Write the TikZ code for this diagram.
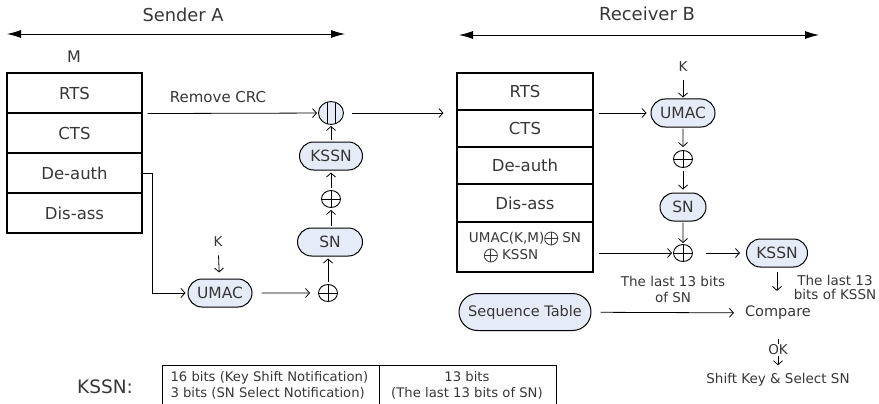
\documentclass[tikz,border=0pt]{standalone}
\usepackage{fontspec}
\setmainfont{DejaVu Sans}
\usetikzlibrary{arrows.meta,shapes.misc,shapes.geometric,calc}
\definecolor{nodefill}{RGB}{229,236,247}
\definecolor{txt}{RGB}{55,55,55}
\newcommand{\xorsym}{\tikz[baseline=-4pt]{\draw[line width=0.8pt] (0pt,0pt) circle[radius=6.5pt]; \draw[line width=0.8pt] (-6.5pt,0pt)--(6.5pt,0pt) (0pt,-6.5pt)--(0pt,6.5pt);}}
\begin{document}
\begin{tikzpicture}[x=1pt,y=-1pt,
  font=\fontsize{15}{18}\selectfont, text=txt,
  arr/.style={-{Straight Barb[length=4pt,width=9pt]}, line width=0.8pt, shorten >=2pt, shorten <=2pt},
  hdr/.style={{Latex[length=14pt,width=8pt]}-{Latex[length=14pt,width=8pt]}, line width=0.9pt},
  cell/.style={draw, line width=1.1pt, inner sep=0pt, font=\fontsize{16.5}{19}\selectfont},
  pill/.style={rounded rectangle, draw, line width=1pt, fill=nodefill, minimum height=28pt, inner sep=2pt, font=\fontsize{15.5}{18}\selectfont},
  xor/.style={ellipse, draw, line width=0.9pt, minimum width=19pt, minimum height=17pt, inner sep=0pt,
    path picture={\draw[line width=0.9pt] (path picture bounding box.north) -- (path picture bounding box.south)
      (path picture bounding box.west) -- (path picture bounding box.east);}},
  small/.style={font=\fontsize{13.5}{15}\selectfont}
]
\useasboundingbox (0,0) rectangle (879,404);

% headers
\node[font=\fontsize{17.8}{20}\selectfont] (sa) at (183,15) {Sender A};
\coordinate (sal) at (7,34);
\coordinate (sar) at (345,34);
\draw[hdr] (sal) -- (sar);
\node[font=\fontsize{18}{20}\selectfont] (rb) at (647,14) {Receiver B};
\coordinate (rbl) at (459,35);
\coordinate (rbr) at (819,35);
\draw[hdr] (rbl) -- (rbr);

% sender table
\node[font=\fontsize{16}{19}\selectfont] (m) at (74,57) {M};
\node[cell, minimum width=135pt, minimum height=40pt] (rts1) at (74.5,93) {RTS};
\node[cell, minimum width=135pt, minimum height=40pt] (cts1) at (74.5,133) {CTS};
\node[cell, minimum width=135pt, minimum height=40pt] (deauth1) at (74.5,173) {De-auth};
\node[cell, minimum width=135pt, minimum height=40pt] (dis1) at (74.5,213) {Dis-ass};

% sender chain
\node[ellipse, draw, fill=nodefill, line width=0.9pt, minimum width=25pt, minimum height=23pt, inner sep=0pt,
  path picture={\draw[line width=0.9pt] ([xshift=-4pt]path picture bounding box.north) -- ([xshift=-4pt]path picture bounding box.south)
    ([xshift=4pt]path picture bounding box.north) -- ([xshift=4pt]path picture bounding box.south);}] (cat1) at (331,113) {};
\node[pill, minimum width=67pt] (kssn1) at (331,156) {KSSN};
\node[xor] (x2) at (331,199) {};
\node[pill, minimum width=69pt] (sn1) at (330,242) {SN};
\node[xor] (x1) at (328,293) {};
\node[pill, minimum width=68pt] (umac1) at (220,293) {UMAC};
\node[font=\fontsize{13.5}{15}\selectfont] (k1) at (218,242) {K};

\node (rcrc) at (218,97) {Remove CRC};
\draw[arr, shorten <=5pt, shorten >=1pt] (rts1.south east) -- (cat1);
\draw[arr, shorten <=0pt] (deauth1.east) -- ++(10,0) |- (umac1);
\draw[arr, shorten <=5pt, shorten >=6pt] (k1) -- (umac1);
\draw[arr, shorten <=9pt, shorten >=8pt] (umac1) -- (x1);
\draw[arr] (x1.north) -- (x1.north |- sn1.south);
\draw[arr] (sn1.north -| x2) -- (x2.south);
\draw[arr] (x2.north) -- (kssn1.south);
\draw[arr, shorten >=1pt] (kssn1.north) -- (cat1.south);

% receiver table
\node[cell, minimum width=136pt, minimum height=37pt] (rts2) at (525,91.5) {RTS};
\node[cell, minimum width=136pt, minimum height=37pt] (cts2) at (525,128.5) {CTS};
\node[cell, minimum width=136pt, minimum height=37pt] (deauth2) at (525,165.5) {De-auth};
\node[cell, minimum width=136pt, minimum height=38pt] (dis2) at (525,203) {Dis-ass};
\node[cell, minimum width=136pt, minimum height=50pt, align=left, font=\fontsize{13.5}{17}\selectfont] (last2) at (525,247)
  {UMAC(K,M)\xorsym\ SN\\\hspace*{15pt}\xorsym\ KSSN};
\draw[arr, shorten <=8pt, shorten >=13pt] (cat1) -- (cat1 -| rts2.west);

% receiver chain
\node[font=\fontsize{13.5}{15}\selectfont] (k2) at (683,67) {K};
\node[pill, minimum width=68pt] (umac2) at (683,113) {UMAC};
\node[xor] (x3) at (683,159) {};
\node[pill, minimum width=50pt] (sn2) at (683,207) {SN};
\node[xor] (x4) at (683,253) {};
\node[pill, minimum width=65pt] (kssn2) at (777,253) {KSSN};

\draw[arr, shorten <=5pt, shorten >=1pt] (k2) -- (umac2);
\draw[arr, shorten <=5pt, shorten >=4pt] (umac2 -| rts2.east) -- (umac2);
\draw[arr, shorten <=1pt, shorten >=3pt] (umac2) -- (x3);
\draw[arr, shorten <=3pt, shorten >=3pt] (x3) -- (sn2);
\draw[arr, shorten <=1pt, shorten >=1pt] (sn2) -- (x4);
\draw[arr, shorten <=5pt, shorten >=1pt] (x4 -| last2.east) -- (x4);
\draw[arr, shorten <=13pt, shorten >=6pt] (x4) -- (kssn2);

% compare
\node[font=\fontsize{14.5}{17}\selectfont, inner sep=1pt] (cmp) at (778,313) {Compare};
\node[pill, minimum width=136pt, minimum height=37pt, font=\fontsize{14.5}{16}\selectfont] (seq) at (525,312) {Sequence Table};
\draw[arr, shorten <=4pt, shorten >=14pt] (kssn2.south) -- (kssn2.south |- cmp.north);
\node[align=center, font=\fontsize{13.5}{14}\selectfont] (lk) at (835,287) {The last 13\\bits of KSSN};
\draw[arr, shorten <=9pt, shorten >=10pt] (seq) -- (cmp);
\node[align=center, font=\fontsize{13.5}{16}\selectfont] (ls) at (673,289) {The last 13 bits\\of SN};
\node[small, inner sep=1pt] (shift) at (778,380) {Shift Key \& Select SN};
\draw[arr, shorten <=18pt, shorten >=7pt] (cmp.south) -- node[pos=0.56, fill=white, inner sep=1pt, small]{OK} (shift.north);

% KSSN format
\node[font=\fontsize{18.5}{20}\selectfont] (klabel) at (105,387) {KSSN:};
\draw[line width=1pt] (162,406) |- (556,365) -- (556,406);
\draw[line width=1pt] (379,365) -- (379,406);
\node[align=left, anchor=west, font=\fontsize{13.2}{16}\selectfont] (t1) at (167,385) {16 bits (Key Shift Notification)\\3 bits (SN Select Notification)};
\node[align=center, font=\fontsize{13.2}{16}\selectfont] (t2) at (467,385) {13 bits\\(The last 13 bits of SN)};
\end{tikzpicture}
\end{document}
